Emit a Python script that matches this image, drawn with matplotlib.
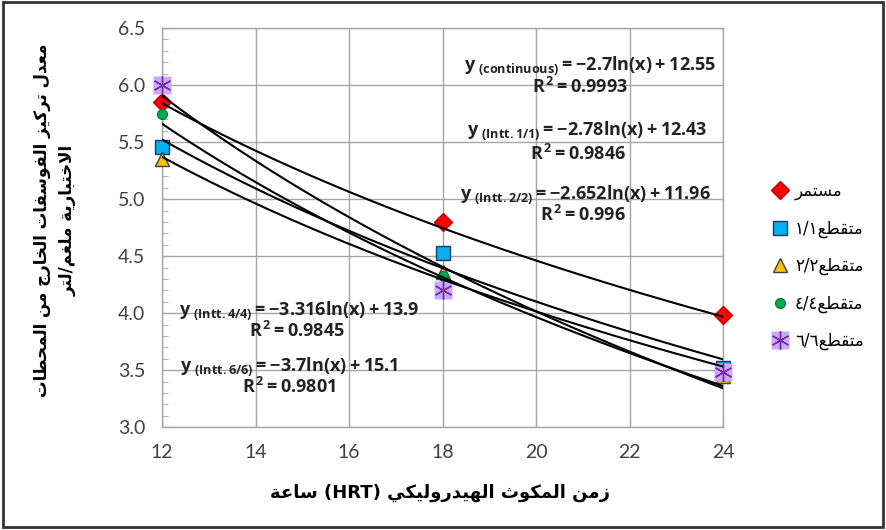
import numpy as np
import matplotlib
matplotlib.use("Agg")
import matplotlib.pyplot as plt
from matplotlib.patches import Rectangle
from matplotlib.legend_handler import HandlerTuple
from matplotlib.ticker import MultipleLocator

# ---- data ----
hrt = [12, 18, 24]
continuous = [5.85, 4.80, 3.98]
intt_1 = [5.46, 4.53, 3.52]
intt_2 = [5.35, 4.36, 3.45]
intt_4 = [5.75, 4.33, 3.45]
intt_6 = [6.00, 4.20, 3.48]

# log trendline coefficients shown on the chart: y = a*ln(x) + b
slopes = [-2.7, -2.78, -2.652, -3.316, -3.7]
intercepts = [12.55, 12.43, 11.96, 13.9, 15.1]
r2_values = ["0.9993", "0.9846", "0.996", "0.9845", "0.9801"]
eq_names = ["(continuous)", "(Intt.1/1)", "(Intt.2/2)", "(Intt.4/4)", "(Intt.6/6)"]

legend_labels = ["مستمر", "متقطع١/١", "متقطع٢/٢", "متقطع٤/٤", "متقطع٦/٦"]
ylabel_lines = ["معدل تركيز الفوسفات الخارج من المحطات", "الاختبارية ملغم/لتر"]
xlabel_text = "زمن المكوث الهيدروليكي (HRT) ساعة"


# ---- tiny arabic shaper (matplotlib does no RTL shaping itself) ----
FORMS = {
    'ء': (0xFE80, 1), 'آ': (0xFE81, 2), 'أ': (0xFE83, 2), 'ؤ': (0xFE85, 2), 'إ': (0xFE87, 2),
    'ئ': (0xFE89, 4), 'ا': (0xFE8D, 2), 'ب': (0xFE8F, 4), 'ة': (0xFE93, 2), 'ت': (0xFE95, 4),
    'ث': (0xFE99, 4), 'ج': (0xFE9D, 4), 'ح': (0xFEA1, 4), 'خ': (0xFEA5, 4), 'د': (0xFEA9, 2),
    'ذ': (0xFEAB, 2), 'ر': (0xFEAD, 2), 'ز': (0xFEAF, 2), 'س': (0xFEB1, 4), 'ش': (0xFEB5, 4),
    'ص': (0xFEB9, 4), 'ض': (0xFEBD, 4), 'ط': (0xFEC1, 4), 'ظ': (0xFEC5, 4), 'ع': (0xFEC9, 4),
    'غ': (0xFECD, 4), 'ف': (0xFED1, 4), 'ق': (0xFED5, 4), 'ك': (0xFED9, 4), 'ل': (0xFEDD, 4),
    'م': (0xFEE1, 4), 'ن': (0xFEE5, 4), 'ه': (0xFEE9, 4), 'و': (0xFEED, 2), 'ى': (0xFEEF, 2),
    'ي': (0xFEF1, 4),
}
LAM_ALEF = {'ا': 0xFEFB, 'أ': 0xFEF7, 'إ': 0xFEF9, 'آ': 0xFEF5}
MIRROR = {'(': ')', ')': '('}


def shape(text):
    items = []
    i = 0
    while i < len(text):
        c = text[i]
        if c == 'ل' and i + 1 < len(text) and text[i + 1] in LAM_ALEF:
            items.append(('LA', text[i + 1]))
            i += 2
        else:
            items.append(('C', c))
            i += 1

    def is_ar(it):
        return it[0] == 'LA' or it[1] in FORMS

    def joins_next(it):
        return it[0] == 'C' and it[1] in FORMS and FORMS[it[1]][1] == 4

    out = []
    for k, it in enumerate(items):
        kind, c = it
        prev = items[k - 1] if k > 0 else None
        nxt = items[k + 1] if k + 1 < len(items) else None
        jp = prev is not None and joins_next(prev)
        if kind == 'LA':
            out.append(chr(LAM_ALEF[c] + (1 if jp else 0)))
            continue
        if c not in FORMS:
            out.append(c)
            continue
        base, n = FORMS[c]
        if n == 1:
            out.append(chr(base))
            continue
        jn = n == 4 and nxt is not None and is_ar(nxt)
        off = 3 if (jp and jn) else 1 if jp else 2 if jn else 0
        out.append(chr(base + off))
    return ''.join(out)


def is_ltr(c):
    return (c.isascii() and c.isalnum()) or ('\u0660' <= c <= '\u0669') or c in './'


def rtl(text):
    s = shape(text)
    runs = []
    for c in s:
        l = is_ltr(c)
        if runs and runs[-1][0] == l:
            runs[-1][1].append(c)
        else:
            runs.append([l, [c]])
    out = []
    for l, cs in reversed(runs):
        if l:
            out.append(''.join(cs))
        else:
            out.append(''.join(MIRROR.get(c, c) for c in reversed(cs)))
    return ''.join(out)


plt.rcParams['mathtext.fontset'] = 'custom'
plt.rcParams['mathtext.rm'] = 'Open Sans:bold'
plt.rcParams['mathtext.it'] = 'Open Sans:bold'
plt.rcParams['mathtext.bf'] = 'Open Sans:bold'

fig = plt.figure(figsize=(8.86, 5.30), dpi=100)
ax = fig.add_axes([0.183, 0.194, 0.633, 0.753])

grid_col = '#A6A6A6'
ax.set_xlim(12, 24)
ax.set_ylim(3.0, 6.5)
ax.set_xticks(np.arange(12, 25, 2))
ax.set_yticks(np.arange(3.0, 6.51, 0.5))
ax.yaxis.set_minor_locator(MultipleLocator(0.1))
ax.set_yticklabels([f"{v:.1f}" for v in np.arange(3.0, 6.51, 0.5)])
ax.grid(True, color=grid_col, linewidth=1, zorder=0)
ax.set_axisbelow(True)
for sp in ax.spines.values():
    sp.set_color(grid_col)
    sp.set_linewidth(1)
ax.tick_params(axis='both', which='major', direction='in', length=5, color=grid_col,
               labelsize=14, labelcolor='#404040', pad=12)
ax.tick_params(axis='y', which='minor', direction='in', length=4, color=grid_col)
for lab in ax.get_xticklabels() + ax.get_yticklabels():
    lab.set_fontfamily('Lato')

# markers
mk = dict(linestyle='none', clip_on=False)
h1, = ax.plot(hrt, continuous, marker='D', markersize=9,
              markerfacecolor='#FF0000', markeredgecolor='#C00000', zorder=3, **mk)
h2, = ax.plot(hrt, intt_1, marker='s', markersize=10,
              markerfacecolor='#00B0F0', markeredgecolor='#1F3864', zorder=3, **mk)
h3, = ax.plot(hrt, intt_2, marker='^', markersize=10,
              markerfacecolor='#FFC000', markeredgecolor='#404040', zorder=3, **mk)
h4, = ax.plot(hrt, intt_4, marker='o', markersize=7,
              markerfacecolor='#00B050', markeredgecolor='#00803A', zorder=3, **mk)
h5a, = ax.plot(hrt, intt_6, marker='s', markersize=13,
               markerfacecolor='#CDA8FF', markeredgecolor='none', zorder=3.1, **mk)
h5b, = ax.plot(hrt, intt_6, marker=(6, 2, 0), markersize=13,
               markeredgecolor='#7030A0', markeredgewidth=1, zorder=3.2, **mk)

# trendlines (drawn on top of the markers like in Excel)
xs = np.linspace(12, 24, 200)
for a, b in zip(slopes, intercepts):
    ax.plot(xs, a * np.log(xs) + b, color='black', linewidth=1.5, zorder=4)

# equation labels
eq_pos = [(21.15, 6.17), (21.09, 5.60), (21.05, 5.04), (14.93, 4.02), (14.72, 3.53)]
r2_pos = [(20.94, 5.98), (20.90, 5.40), (21.0, 4.86), (14.89, 3.84), (14.72, 3.35)]
for name, a, b, r2, (ex, ey), (rx, ry) in zip(eq_names, slopes, intercepts, r2_values, eq_pos, r2_pos):
    eq = rf"$y_{{\ {name}}}= {a:g}ln(x) + {b:g}$"
    ax.text(ex, ey, eq, ha='center', va='center', fontsize=13, color='#222222', zorder=5)
    ax.text(rx, ry, rf"$R^2 = {r2}$", ha='center', va='center', fontsize=13,
            color='#222222', zorder=5)

# axis titles
fig.text(0.062, 0.585, '\n'.join(rtl(l) for l in ylabel_lines), rotation=90, ha='center',
         va='center', multialignment='center', fontsize=12, fontweight='bold',
         family='DejaVu Sans', linespacing=1.5)
fig.text(0.497, 0.07, rtl(xlabel_text), ha='center', va='center', fontsize=13,
         fontweight='bold', family='DejaVu Sans')

handles = [h1, h2, h3, h4, (h5a, h5b)]
fig.legend(handles, [rtl(l) for l in legend_labels], loc='upper left',
           bbox_to_anchor=(0.854, 0.685), frameon=False,
           labelspacing=1.15, handletextpad=0.4, handlelength=1.0,
           handler_map={tuple: HandlerTuple(ndivide=1)},
           prop={'family': 'DejaVu Sans', 'size': 12})

# outer frame around the whole picture
fig.patches.append(Rectangle((0.003, 0.006), 0.994, 0.99, transform=fig.transFigure,
                             fill=False, edgecolor='#333333', linewidth=2))

fig.savefig('out.png', dpi=100)
